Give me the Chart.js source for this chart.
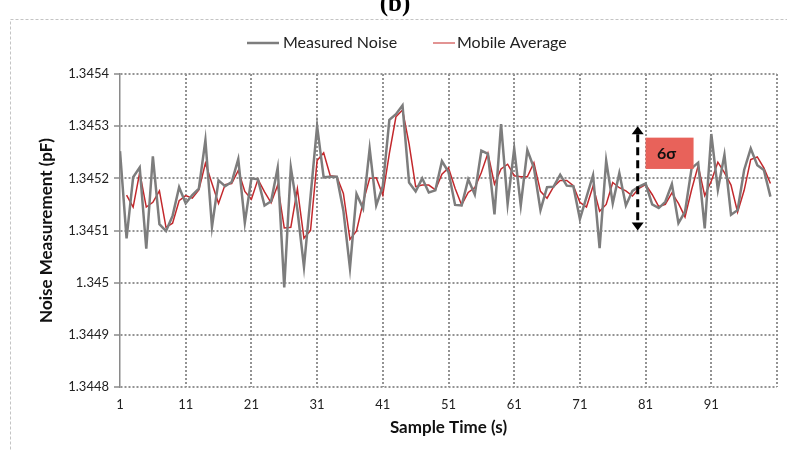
<!DOCTYPE html>
<html>
<head>
<meta charset="utf-8">
<script src="https://cdn.jsdelivr.net/npm/chart.js@4.4.1/dist/chart.umd.min.js"></script>
<style>
  html, body { margin: 0; padding: 0; background: #ffffff; }
  #wrap { width: 787px; height: 451px; position: relative; }
</style>
</head>
<body>
<div id="wrap"><canvas id="c" width="787" height="451"></canvas></div>
<script>
// Sample instants (s)
const sampleTimes = [
  1, 2, 3, 4, 5, 6, 7, 8, 9, 10, 11, 12, 13, 14, 15, 16, 17, 18, 19, 20,
  21, 22, 23, 24, 25, 26, 27, 28, 29, 30, 31, 32, 33, 34, 35, 36, 37, 38, 39, 40,
  41, 42, 43, 44, 45, 46, 47, 48, 49, 50, 51, 52, 53, 54, 55, 56, 57, 58, 59, 60,
  61, 62, 63, 64, 65, 66, 67, 68, 69, 70, 71, 72, 73, 74, 75, 76, 77, 78, 79, 80,
  81, 82, 83, 84, 85, 86, 87, 88, 89, 90, 91, 92, 93, 94, 95, 96, 97, 98, 99, 100
];

// Raw capacitance readings (pF)
const measuredNoise = [
  1.345252, 1.345085, 1.345202, 1.345221, 1.345065, 1.345242, 1.345112, 1.345099, 1.345128, 1.345183,
  1.345152, 1.345168, 1.345180, 1.345273, 1.345107, 1.345196, 1.345185, 1.345193, 1.345237, 1.345115,
  1.345200, 1.345198, 1.345148, 1.345156, 1.345220, 1.344991, 1.345221, 1.345140, 1.345030, 1.345165,
  1.345300, 1.345202, 1.345203, 1.345203, 1.345138, 1.345028, 1.345170, 1.345142, 1.345257, 1.345148,
  1.345185, 1.345312, 1.345323, 1.345340, 1.345192, 1.345175, 1.345200, 1.345173, 1.345177, 1.345233,
  1.345212, 1.345149, 1.345148, 1.345198, 1.345169, 1.345253, 1.345247, 1.345131, 1.345304, 1.345151,
  1.345257, 1.345148, 1.345254, 1.345220, 1.345139, 1.345183, 1.345184, 1.345207, 1.345186, 1.345185,
  1.345122, 1.345164, 1.345206, 1.345066, 1.345234, 1.345152, 1.345210, 1.345148, 1.345176, 1.345184,
  1.345190, 1.345150, 1.345143, 1.345155, 1.345189, 1.345114, 1.345136, 1.345219, 1.345230, 1.345104,
  1.345285, 1.345178, 1.345245, 1.345130, 1.345139, 1.345216, 1.345257, 1.345225, 1.345216, 1.345165
];

// Two-sample moving average (pF)
const mobileAverage = [
  null,     1.345168, 1.345145, 1.345211, 1.345145, 1.345154, 1.345176, 1.345106, 1.345114, 1.345157,
  1.345167, 1.345162, 1.345178, 1.345229, 1.345190, 1.345152, 1.345188, 1.345190, 1.345215, 1.345175,
  1.345160, 1.345198, 1.345174, 1.345153, 1.345187, 1.345105, 1.345106, 1.345180, 1.345085, 1.345100,
  1.345234, 1.345249, 1.345205, 1.345203, 1.345171, 1.345083, 1.345099, 1.345154, 1.345200, 1.345201,
  1.345168, 1.345248, 1.345318, 1.345331, 1.345266, 1.345184, 1.345187, 1.345187, 1.345178, 1.345208,
  1.345220, 1.345181, 1.345149, 1.345173, 1.345182, 1.345211, 1.345248, 1.345189, 1.345218, 1.345227,
  1.345205, 1.345203, 1.345203, 1.345230, 1.345175, 1.345162, 1.345184, 1.345196, 1.345196, 1.345186,
  1.345154, 1.345145, 1.345185, 1.345137, 1.345150, 1.345192, 1.345182, 1.345176, 1.345166, 1.345181,
  1.345188, 1.345169, 1.345146, 1.345150, 1.345172, 1.345152, 1.345126, 1.345178, 1.345224, 1.345167,
  1.345195, 1.345231, 1.345211, 1.345187, 1.345135, 1.345177, 1.345236, 1.345241, 1.345220, 1.345190
];

const seriesNames = ['Measured Noise', 'Mobile Average'];
const xTickLabels = ['1', '11', '21', '31', '41', '51', '61', '71', '81', '91'];
const yTickLabels = ['1.3448', '1.3449', '1.345', '1.3451', '1.3452', '1.3453', '1.3454'];
const panelTag = '(b)';
const sigmaText = '6σ';

const GRAY = '#7d7d7d';
const RED = '#c3282c';
const GRID = '#939393';
const FONT = 'Lato, "Open Sans", Arial, sans-serif';

// spread marker, in data units
const spread = { x: 79.8, yLow: 1.3451, yHigh: 1.3453 };
const spreadBox = { x0: 81, x1: 88.3, yLow: 1.345218, yHigh: 1.345278 };

function toPoints(values) {
  return values.map((v, i) => ({ x: sampleTimes[i], y: v }));
}

const decor = {
  id: 'decor',
  beforeDraw(chart) {
    const ctx = chart.ctx;
    ctx.save();
    ctx.fillStyle = '#ffffff';
    ctx.fillRect(0, 0, chart.width, chart.height);
    // outer dashed frame
    ctx.strokeStyle = '#c4c4c4';
    ctx.lineWidth = 1;
    ctx.setLineDash([3, 2]);
    ctx.strokeRect(10.5, 19.5, 800, 460);
    ctx.setLineDash([]);
    // panel tag
    ctx.fillStyle = '#000000';
    ctx.font = 'bold 25px "Liberation Serif", "DejaVu Serif", serif';
    ctx.textAlign = 'center';
    ctx.textBaseline = 'alphabetic';
    ctx.fillText(panelTag, 395, 11);
    // legend
    ctx.font = '16px ' + FONT;
    ctx.textAlign = 'left';
    ctx.textBaseline = 'middle';
    const ly = 43;
    ctx.lineWidth = 2.5;
    ctx.strokeStyle = GRAY;
    ctx.beginPath(); ctx.moveTo(247, ly); ctx.lineTo(279, ly); ctx.stroke();
    ctx.fillStyle = '#222222';
    ctx.fillText(seriesNames[0], 283, ly);
    ctx.lineWidth = 1.5;
    ctx.strokeStyle = '#d9706f';
    ctx.beginPath(); ctx.moveTo(433, ly); ctx.lineTo(455, ly); ctx.stroke();
    ctx.fillText(seriesNames[1], 457, ly);
    ctx.restore();
  },
  afterDatasetsDraw(chart) {
    const ctx = chart.ctx;
    const xs = chart.scales.x, ys = chart.scales.y;
    ctx.save();
    // label box
    const bx0 = xs.getPixelForValue(spreadBox.x0), bx1 = xs.getPixelForValue(spreadBox.x1);
    const by0 = ys.getPixelForValue(spreadBox.yHigh), by1 = ys.getPixelForValue(spreadBox.yLow);
    ctx.fillStyle = '#e8625a';
    ctx.fillRect(bx0, by0, bx1 - bx0, by1 - by0);
    ctx.fillStyle = '#111111';
    ctx.font = 'bold 16px ' + FONT;
    ctx.textAlign = 'center';
    ctx.textBaseline = 'middle';
    ctx.fillText(sigmaText, (bx0 + bx1) / 2 - 3, (by0 + by1) / 2 + 1);
    // dashed double arrow
    const ax = xs.getPixelForValue(spread.x);
    const top = ys.getPixelForValue(spread.yHigh);
    const bot = ys.getPixelForValue(spread.yLow);
    const head = 8, half = 6;
    ctx.strokeStyle = '#000000';
    ctx.lineWidth = 3;
    ctx.setLineDash([8, 5]);
    ctx.beginPath(); ctx.moveTo(ax, top + head); ctx.lineTo(ax, bot - head); ctx.stroke();
    ctx.setLineDash([]);
    ctx.fillStyle = '#000000';
    ctx.beginPath(); ctx.moveTo(ax, top); ctx.lineTo(ax - half, top + head); ctx.lineTo(ax + half, top + head); ctx.closePath(); ctx.fill();
    ctx.beginPath(); ctx.moveTo(ax, bot); ctx.lineTo(ax - half, bot - head); ctx.lineTo(ax + half, bot - head); ctx.closePath(); ctx.fill();
    ctx.restore();
  }
};

new Chart(document.getElementById('c'), {
  type: 'line',
  data: {
    datasets: [
      {
        label: seriesNames[0],
        data: toPoints(measuredNoise),
        borderColor: GRAY,
        borderWidth: 2.5,
        pointRadius: 0,
        tension: 0,
        fill: false
      },
      {
        label: seriesNames[1],
        data: toPoints(mobileAverage),
        borderColor: RED,
        borderWidth: 1.5,
        pointRadius: 0,
        tension: 0,
        fill: false,
        spanGaps: false
      }
    ]
  },
  options: {
    responsive: false,
    devicePixelRatio: 1,
    animation: false,
    layout: { padding: { top: 74, right: 10, bottom: 0, left: 0 } },
    plugins: {
      legend: { display: false },
      tooltip: { enabled: false }
    },
    scales: {
      x: {
        type: 'linear',
        min: 1,
        max: 101,
        afterFit(scale) { scale.height = 64; },
        ticks: {
          stepSize: 10,
          autoSkip: false,
          maxRotation: 0,
          padding: 10,
          color: '#222222',
          font: { family: FONT, size: 13 },
          callback(value) {
            const lbl = xTickLabels.find(l => Number(l) === Math.round(value));
            return lbl === undefined ? '' : lbl;
          }
        },
        grid: {
          drawTicks: false,
          color: (c) => (c.tick && c.tick.value === 1) ? 'rgba(0,0,0,0)' : GRID,
          lineWidth: 2
        },
        border: { display: false, dash: [2, 2] },
        title: {
          display: true,
          text: 'Sample Time (s)',
          color: '#111111',
          font: { family: FONT, size: 17, weight: 'bold' },
          padding: { top: 0, bottom: 13 }
        }
      },
      y: {
        type: 'linear',
        min: 1.3448,
        max: 1.3454,
        afterFit(scale) { scale.width = 120; },
        ticks: {
          stepSize: 0.0001,
          padding: 5,
          color: '#222222',
          font: { family: FONT, size: 13 },
          callback(value) {
            const lbl = yTickLabels.find(l => Math.abs(parseFloat(l) - value) < 1e-9);
            return lbl === undefined ? '' : lbl;
          }
        },
        grid: {
          color: GRID,
          lineWidth: 2,
          drawTicks: true,
          tickLength: 6,
          tickColor: '#8a8a8a',
          tickWidth: 1.5,
          tickBorderDash: []
        },
        border: { display: true, color: '#8a8a8a', width: 1.5, dash: [2, 2] },
        title: {
          display: true,
          text: 'Noise Measurement (pF)',
          color: '#111111',
          font: { family: FONT, size: 17, weight: 'bold' },
          padding: { top: 36, bottom: 0 }
        }
      }
    }
  },
  plugins: [decor]
});
</script>
</body>
</html>
